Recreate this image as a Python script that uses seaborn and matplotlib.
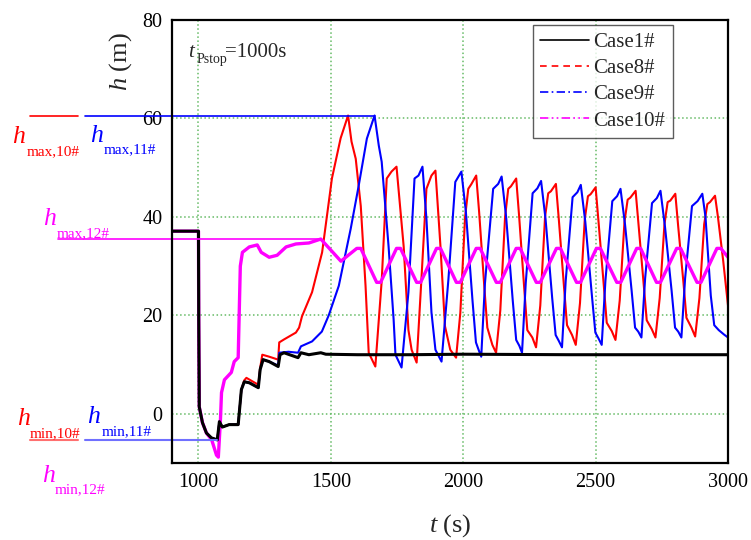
import numpy as np
import pandas as pd
import seaborn as sns
import matplotlib.pyplot as plt
from matplotlib.lines import Line2D

# ---- data ----
t_case1 = [900, 1000, 1001, 1003, 1015, 1030, 1049, 1071, 1079, 1090, 1116, 1150,
           1162, 1173, 1192, 1226, 1233, 1244, 1267, 1301, 1308, 1323, 1376, 1387,
           1417, 1462, 1481, 1600, 1800, 2000, 2400, 3000]
h_case1 = [37.1, 37.1, 19.2, 1.4, -1.8, -3.9, -4.9, -5.3, -1.6, -2.7, -2.2, -2.2,
           4.9, 6.5, 6.3, 5.3, 9.0, 11.0, 10.6, 9.6, 12.0, 12.4, 11.4, 12.4,
           12.0, 12.4, 12.1, 12.0, 12.0, 12.1, 12.0, 12.0]

t_case8 = [900, 1000, 1001, 1003, 1015, 1030, 1049, 1071, 1079, 1090, 1116, 1150,
           1162, 1173, 1181, 1226, 1233, 1241, 1267, 1301, 1305, 1323, 1368, 1380,
           1391, 1429, 1467, 1504, 1537, 1565, 1578, 1594, 1613, 1631, 1643, 1668,
           1692, 1711, 1729, 1748, 1775, 1793, 1805, 1824, 1842, 1861, 1880, 1895,
           1914, 1931, 1951, 1973,
           1989, 2007, 2019, 2030, 2049, 2060, 2080, 2091, 2110, 2124,
           2140, 2158, 2170, 2180, 2200, 2211, 2231, 2242, 2261, 2275,
           2291, 2309, 2321, 2331, 2350, 2361, 2381, 2392, 2411, 2425,
           2441, 2459, 2471, 2481, 2500, 2511, 2531, 2542, 2561, 2575,
           2591, 2609, 2621, 2631, 2651, 2662, 2682, 2693, 2712, 2726,
           2742, 2760, 2772, 2782, 2801, 2812, 2832, 2843, 2862, 2876,
           2892, 2910, 2922, 2932, 2951, 2962, 2982, 3000]
h_case8 = [37.1, 37.1, 19.2, 1.4, -1.8, -3.9, -4.9, -5.3, -1.6, -2.7, -2.2, -2.2,
           4.9, 6.8, 7.3, 5.9, 9.3, 12.0, 11.6, 11.0, 14.5, 15.1, 16.5, 17.5,
           19.8, 24.7, 32.8, 47.8, 56.0, 60.6, 55.3, 51.8, 42.2, 26.0, 12.4, 9.6,
           27.0, 47.8, 49.2, 50.2, 34.0, 17.0, 13.0, 10.4, 27.3, 45.7, 48.4, 49.4,
           34.0, 17.8, 13.0, 11.4,
           20.5, 40.0, 45.7, 46.6, 48.4, 41.0, 25.5, 17.5, 14.0, 12.4,
           21.0, 40.0, 45.7, 46.2, 47.8, 40.2, 25.0, 17.0, 15.5, 13.5,
           22.0, 40.0, 44.8, 45.2, 46.7, 39.5, 25.5, 18.0, 16.0, 14.0,
           22.5, 39.5, 44.2, 44.6, 46.0, 39.0, 26.0, 18.5, 16.8, 15.0,
           23.0, 39.0, 43.5, 43.9, 45.3, 38.5, 26.0, 19.0, 17.2, 15.5,
           23.5, 38.5, 43.0, 43.3, 44.7, 38.0, 26.5, 19.5, 17.5, 15.7,
           23.5, 38.5, 42.6, 43.0, 44.3, 40.0, 31.0, 22.0]

t_case9 = [900, 1000, 1001, 1003, 1015, 1030, 1049, 1071, 1079, 1090, 1116, 1150,
           1162, 1173, 1192, 1226, 1233, 1244, 1267, 1301, 1305, 1340, 1376, 1387,
           1429, 1466, 1492, 1530, 1575, 1605, 1636, 1665, 1681, 1692, 1718, 1737,
           1744, 1767, 1793, 1816, 1831, 1846, 1861, 1880, 1895, 1918, 1944, 1970,
           1993,
           2010, 2035, 2048, 2058, 2068, 2082, 2113, 2132, 2145,
           2162, 2187, 2200, 2212, 2222, 2236, 2262, 2280, 2294,
           2311, 2336, 2349, 2361, 2373, 2387, 2413, 2431, 2444,
           2461, 2486, 2499, 2511, 2523, 2537, 2563, 2581, 2594,
           2611, 2636, 2649, 2661, 2673, 2687, 2713, 2731, 2745,
           2762, 2787, 2800, 2812, 2824, 2838, 2864, 2885, 2903,
           2915, 2935, 2948, 2965, 2985, 3000]
h_case9 = [37.1, 37.1, 19.2, 1.4, -1.8, -3.9, -4.9, -5.3, -1.6, -2.7, -2.2, -2.2,
           4.9, 6.5, 6.3, 5.3, 9.0, 11.0, 10.6, 9.8, 12.4, 12.6, 12.4, 13.7,
           14.7, 16.7, 20.0, 26.0, 37.6, 46.3, 55.9, 60.6, 54.5, 51.2, 34.0, 19.2,
           12.0, 9.4, 24.7, 47.8, 48.4, 50.2, 39.6, 20.6, 13.0, 10.6, 27.3, 47.1,
           49.2,
           41.0, 23.0, 14.5, 13.0, 11.6, 26.5, 45.7, 46.7, 48.2,
           40.0, 23.0, 15.0, 13.8, 12.4, 26.5, 44.8, 45.8, 47.3,
           39.5, 23.5, 16.0, 14.8, 13.5, 27.0, 44.0, 45.0, 46.5,
           39.0, 24.0, 16.5, 15.3, 14.0, 27.0, 43.2, 44.2, 45.7,
           38.5, 25.0, 17.5, 16.7, 15.5, 27.5, 42.8, 43.8, 45.3,
           38.0, 25.0, 17.5, 16.7, 15.5, 27.5, 42.2, 43.2, 44.7,
           40.0, 24.0, 18.0, 17.0, 16.1, 15.5]

t_case10 = [900, 1000, 1001, 1003, 1015, 1030, 1050, 1068, 1075, 1083, 1087, 1098,
            1124, 1135, 1150, 1158, 1166, 1192, 1222, 1237, 1267, 1297, 1331, 1368,
            1417, 1462, 1538, 1598, 1613, 1673, 1688, 1748, 1763, 1824, 1839, 1899,
            1914, 1974, 1989, 2049, 2064, 2125, 2140, 2200, 2215, 2276, 2291, 2352,
            2367, 2428, 2443, 2503, 2518, 2580, 2595, 2655, 2670, 2730, 2745, 2806,
            2821, 2883, 2898, 2958, 2973, 3000]
h_case10 = [37.1, 37.1, 19.2, 1.4, -1.8, -3.9, -5.3, -8.4, -8.8, -1.2, 4.3, 6.9,
            8.4, 10.6, 11.4, 30.0, 32.8, 33.9, 34.3, 32.8, 31.8, 32.2, 33.9, 34.5,
            34.7, 35.5, 31.0, 33.6, 33.6, 26.7, 26.7, 33.6, 33.6, 26.7, 26.7, 33.6,
            33.6, 26.7, 26.7, 33.6, 33.6, 26.7, 26.7, 33.6, 33.6, 26.7, 26.7, 33.6,
            33.6, 26.7, 26.7, 33.6, 33.6, 26.7, 26.7, 33.6, 33.6, 26.7, 26.7, 33.6,
            33.6, 26.7, 26.7, 33.6, 33.6, 31.8]

case_names = ['Case1#', 'Case8#', 'Case9#', 'Case10#']
case_colors = ['black', '#ff0000', '#0000ff', '#ff00ff']

# extreme levels marked on the left
h_max_10, h_max_11, h_max_12 = 60.5, 60.5, 35.5
h_min_10, h_min_11 = -5.4, -5.4

x_ticks = [1000, 1500, 2000, 2500, 3000]
y_ticks = [0, 20, 40, 60, 80]

# ---- style ----
sns.set_style('white')
plt.rcParams['font.family'] = ['Liberation Serif', 'DejaVu Serif']
plt.rcParams['mathtext.fontset'] = 'custom'
plt.rcParams['mathtext.rm'] = 'Liberation Serif'
plt.rcParams['mathtext.it'] = 'Liberation Serif:italic'

W, H = 751, 540
fig = plt.figure(figsize=(W / 100, H / 100), dpi=100)
ax = fig.add_axes([172 / W, 1 - 463 / H, (728 - 172) / W, (463 - 20) / H])

# draw order: red, blue, magenta, black on top
sns.lineplot(x=t_case8, y=h_case8, ax=ax, color=case_colors[1], lw=1.5,
             estimator=None, sort=False, legend=False)
sns.lineplot(x=t_case9, y=h_case9, ax=ax, color=case_colors[2], lw=1.5,
             estimator=None, sort=False, legend=False)
sns.lineplot(x=t_case10, y=h_case10, ax=ax, color=case_colors[3], lw=2.4,
             estimator=None, sort=False, legend=False)
sns.lineplot(x=t_case1, y=h_case1, ax=ax, color=case_colors[0], lw=2.2,
             estimator=None, sort=False, legend=False)

# reference lines running out to the left labels
ax.plot([365, 545], [h_max_10, h_max_10], color='#ff0000', lw=1.2, clip_on=False)
ax.plot([571, 1665], [h_max_11, h_max_11], color='#0000ff', lw=1.2, clip_on=False)
ax.plot([470, 1462], [h_max_12, h_max_12], color='#ff00ff', lw=1.2, clip_on=False)
ax.plot([365, 545], [h_min_10, h_min_10], color='#ff7070', lw=1.5, clip_on=False)
ax.plot([571, 1071], [h_min_11, h_min_11], color='#7070ff', lw=1.5, clip_on=False)

ax.set_xlim(900, 3000)
ax.set_ylim(-10, 80)
ax.set_xticks(x_ticks)
ax.set_yticks(y_ticks)
ax.grid(True, color='#66bb66', linestyle=':', linewidth=1.1)
ax.tick_params(direction='in', length=7, width=1.6, labelsize=14.5, pad=7,
               colors='black')
for s in ax.spines.values():
    s.set_linewidth(1.6)
    s.set_color('black')

ax.set_xlabel(r'$t$ (s)', fontsize=19)
ax.set_ylabel(r'$h$ (m)', fontsize=19)
ax.xaxis.set_label_coords(0.5, -0.11)
ax.yaxis.set_label_coords(-0.068, 0.905)


def fig_label(x, y, main, sub, color, x2, y2, size=18.5, subsize=11):
    fig.text(x / W, 1 - y / H, main, color=color, fontsize=size,
             style='italic', va='baseline', ha='left')
    fig.text(x2 / W, 1 - y2 / H, sub, color=color, fontsize=subsize,
             va='baseline', ha='left')


fig_label(12, 143, 'h', 'max,10#', '#ff0000', 27, 155)
fig_label(90, 142, 'h', 'max,11#', '#0000ff', 104, 153)
fig_label(43, 225, 'h', 'max,12#', '#ff00ff', 57, 237)
fig_label(17, 425, 'h', 'min,10#', '#ff0000', 30, 437)
fig_label(87, 423, 'h', 'min,11#', '#0000ff', 102, 435)
fig_label(42, 482, 'h', 'min,12#', '#ff00ff', 55, 493)

# t_Pstop note
fig.text(188 / W, 1 - 57 / H, 't', fontsize=15, style='italic', va='baseline')
fig.text(197 / W, 1 - 63 / H, 'Pstop', fontsize=10, va='baseline')
fig.text(225 / W, 1 - 57 / H, '=1000s', fontsize=15, va='baseline')

handles = [
    Line2D([], [], color=case_colors[0], lw=1.2, ls='-'),
    Line2D([], [], color=case_colors[1], lw=1.2, ls=(0, (4, 3))),
    Line2D([], [], color=case_colors[2], lw=1.2, ls=(0, (5, 2, 1, 2))),
    Line2D([], [], color=case_colors[3], lw=1.2, ls=(0, (5, 2, 1, 2, 1, 2))),
]
leg = ax.legend(handles, case_names, loc='upper left',
                bbox_to_anchor=((533 - 172) / 556, (463 - 25) / 443),
                borderaxespad=0, fontsize=15, frameon=True, fancybox=False,
                handlelength=2.35, handletextpad=0.2, labelspacing=0.32,
                borderpad=0.35)
leg.get_frame().set_edgecolor('#333333')
leg.get_frame().set_linewidth(1.0)

fig.savefig('out.png', dpi=100)
